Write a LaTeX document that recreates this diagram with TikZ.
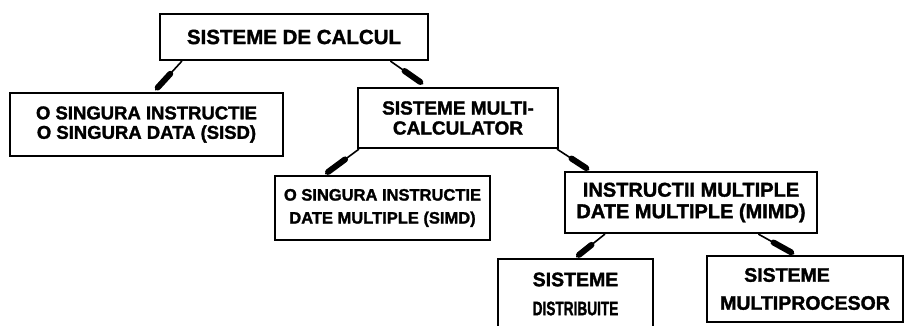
\documentclass[tikz,border=0pt]{standalone}
\usepackage{fontspec}
\setmainfont{Liberation Sans}
\newfontfamily\heavy[FakeBold=1.6]{Liberation Sans Bold}
\newcommand\fs[2]{\heavy\fontsize{#1}{#2}\selectfont}
\begin{document}
\begin{tikzpicture}[x=1pt,y=-1pt,
  box/.style={draw, line width=2.6pt, rectangle, inner sep=0pt, align=center},
  conn/.style={line width=1.6pt, line cap=round,
    postaction={draw, line width=6pt, line cap=round,
      shorten <=17pt, shorten >=3pt}}]
\useasboundingbox (0,0) rectangle (905,325);

% classification tree of computing systems
\node[box, minimum width=268pt, minimum height=46pt, font=\fs{20.5}{20}] (root) at (294,37)
  {SISTEME DE CALCUL};
\node[box, minimum width=273pt, minimum height=63pt, font=\fs{18.5}{19.5}] (sisd) at (146.5,124.5)
  {O SINGURA INSTRUCTIE\\O SINGURA DATA (SISD)};
\node[box, minimum width=200pt, minimum height=60pt, font=\fs{19}{20}] (multi) at (458,118)
  {SISTEME MULTI-\\CALCULATOR};
\node[box, minimum width=215pt, minimum height=64pt, font=\fs{16.5}{20}] (simd) at (382.5,208)
  {\raisebox{3pt}{O SINGURA INSTRUCTIE}\\DATE MULTIPLE (SIMD)};
\node[box, minimum width=252pt, minimum height=61pt, font=\fs{20}{19.5}] (mimd) at (691,202.5)
  {\raisebox{2pt}{INSTRUCTII MULTIPLE}\\DATE MULTIPLE (MIMD)};
\node[box, minimum width=155pt, minimum height=70pt, font=\fs{19.5}{29}] (distr) at (575.5,294)
  {SISTEME\\\scalebox{0.7}[1]{DISTRIBUITE}};
\node[box, minimum width=196pt, minimum height=66pt, font=\fs{19.5}{28}] (mproc) at (805,289)
  {\hspace*{-36pt}SISTEME\\MULTIPROCESOR};

% connectors, each ending in a thickened tip on the lower box
\draw[conn] ([xshift=23pt]root.south west) -- ([xshift=147pt,yshift=2pt]sisd.north west);
\draw[conn] ([xshift=232pt]root.south west) -- ([xshift=66pt,yshift=3pt]multi.north west);
\draw[conn] ([xshift=2pt]multi.south west) -- ([xshift=52pt,yshift=1pt]simd.north west);
\draw[conn] ([xshift=-2pt]multi.south east) -- ([xshift=25pt,yshift=1pt]mimd.north west);
\draw[conn] ([xshift=41pt]mimd.south west) -- ([xshift=80pt,yshift=1pt]distr.north west);
\draw[conn] ([xshift=195pt]mimd.south west) -- ([xshift=88pt,yshift=1pt]mproc.north west);
\end{tikzpicture}
\end{document}
